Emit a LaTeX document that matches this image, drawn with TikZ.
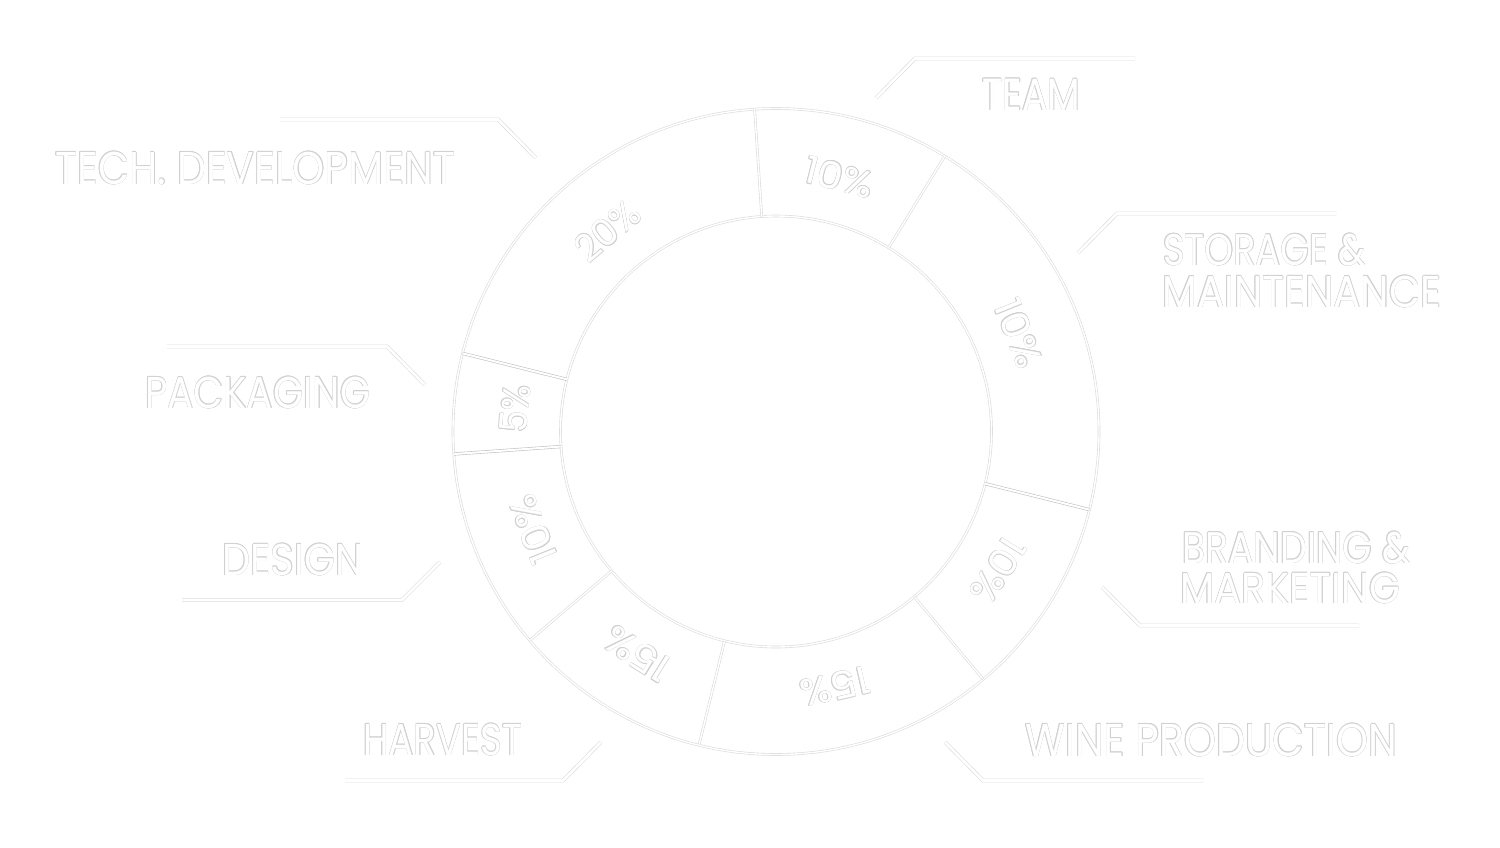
\documentclass[tikz,border=0pt]{standalone}
\usepackage{fontspec}
\setmainfont{Poppins}
\usepackage{graphicx}
\usetikzlibrary{calc}
\definecolor{ol}{gray}{0.82}
\definecolor{ln}{gray}{0.86}
\definecolor{dv}{gray}{0.76}
\newcommand\ofs[3]{\rlap{\raisebox{#2}{\hspace*{#1}\textcolor{ol}{#3}}}}
\newcommand\outl[1]{\ofs{-.5pt}{0pt}{#1}\ofs{.5pt}{0pt}{#1}\ofs{0pt}{.5pt}{#1}\ofs{0pt}{-.5pt}{#1}\ofs{.35pt}{.35pt}{#1}\ofs{-.35pt}{.35pt}{#1}\ofs{.35pt}{-.35pt}{#1}\ofs{-.35pt}{-.35pt}{#1}\textcolor{white}{#1}}
\newcommand\lab[3]{\resizebox{#1}{#2}{\fontsize{40}{44}\selectfont\outl{#3}}}
\begin{document}
\begin{tikzpicture}[x=1pt,y=-1pt,
  txt/.style={inner sep=0pt,anchor=base west},
  pct/.style={inner sep=0pt},
  callout/.style={draw=ln,line width=.6pt,double=white,double distance=2.6pt,line join=miter},
  ringline/.style={draw=ln,line width=.6pt,double=white,double distance=1.4pt},
  divline/.style={draw=dv,line width=.6pt,double=white,double distance=2pt},
  divlight/.style={draw=ln,line width=.6pt,double=white,double distance=1.4pt}]
\useasboundingbox (0,0) rectangle (1500,847);
\fill[white] (0,0) rectangle (1500,847);
\coordinate (c) at (776,431.5);
% ring
\fill[white,even odd rule] (c) circle[radius=323] (c) circle[radius=215.5];
\draw[ringline] (c) circle[radius=323];
\draw[ringline] (c) circle[radius=215.5];
% dividers
\foreach \a in {166,184,346}{
  \draw[divline] ($(c)+(-\a:215.5)$) -- ($(c)+(-\a:323)$);}
\foreach \a in {58.5,93.8,220.3,256.2,309.9}{
  \draw[divlight] ($(c)+(-\a:215.5)$) -- ($(c)+(-\a:323)$);}
% percentages
\node[pct,rotate=-14] (p1) at ($(c)+(-76:262)$) {\lab{70pt}{28pt}{10\%}};
\node[pct,rotate=40] (p2) at ($(c)+(-130:262)$) {\lab{72pt}{28pt}{20\%}};
\node[pct,rotate=85] (p3) at ($(c)+(-175:262)$) {\lab{48pt}{28pt}{5\%}};
\node[pct,rotate=112] (p4) at ($(c)+(-202:262)$) {\lab{70pt}{28pt}{10\%}};
\node[pct,rotate=148] (p5) at ($(c)+(-238:262)$) {\lab{70pt}{28pt}{15\%}};
\node[pct,rotate=193] (p6) at ($(c)+(-283:262)$) {\lab{70pt}{28pt}{15\%}};
\node[pct,rotate=238] (p7) at ($(c)+(-328:262)$) {\lab{70pt}{28pt}{10\%}};
\node[pct,rotate=-68] (p8) at ($(c)+(-22:262)$) {\lab{70pt}{28pt}{10\%}};
% labels
\node[txt] (tech) at (55,184) {\lab{400pt}{33pt}{TECH. DEVELOPMENT}};
\node[txt] (team) at (982,110) {\lab{98pt}{32pt}{TEAM}};
\node[txt] (stor1) at (1163,265) {\lab{202pt}{32pt}{STORAGE \&}};
\node[txt] (stor2) at (1162,307) {\lab{279pt}{32pt}{MAINTENANCE}};
\node[txt] (pack) at (145,408) {\lab{225pt}{32pt}{PACKAGING}};
\node[txt] (design) at (222,575) {\lab{141pt}{32pt}{DESIGN}};
\node[txt] (brand1) at (1182,563) {\lab{228pt}{32pt}{BRANDING \&}};
\node[txt] (brand2) at (1180,603) {\lab{220pt}{31pt}{MARKETING}};
\node[txt] (harv) at (363,755) {\lab{159pt}{32pt}{HARVEST}};
\node[txt] (wine) at (1025,756) {\lab{372pt}{33pt}{WINE PRODUCTION}};
% callout coordinates
\coordinate (t1) at (280,119.5); \coordinate (t2) at (498,119.5); \coordinate (t3) at (536,158);
\coordinate (m1) at (1135,58.5); \coordinate (m2) at (915,58.5); \coordinate (m3) at (876,98);
\coordinate (s1) at (1336,213.5); \coordinate (s2) at (1117,213.5); \coordinate (s3) at (1078,253);
\coordinate (k1) at (167,346.5); \coordinate (k2) at (387,346.5); \coordinate (k3) at (425,385);
\coordinate (d1) at (182,600); \coordinate (d2) at (402,600); \coordinate (d3) at (440,562);
\coordinate (b1) at (1359,625.5); \coordinate (b2) at (1140,625.5); \coordinate (b3) at (1102,587);
\coordinate (h1) at (345,780.5); \coordinate (h2) at (563,780.5); \coordinate (h3) at (601,742);
\coordinate (w1) at (1203,780.5); \coordinate (w2) at (983,780.5); \coordinate (w3) at (945,742);
\foreach \p in {t,m,s,k,d,b,h,w}{
  \draw[callout] (\p1) -- (\p2) -- (\p3);}
\end{tikzpicture}
\end{document}
